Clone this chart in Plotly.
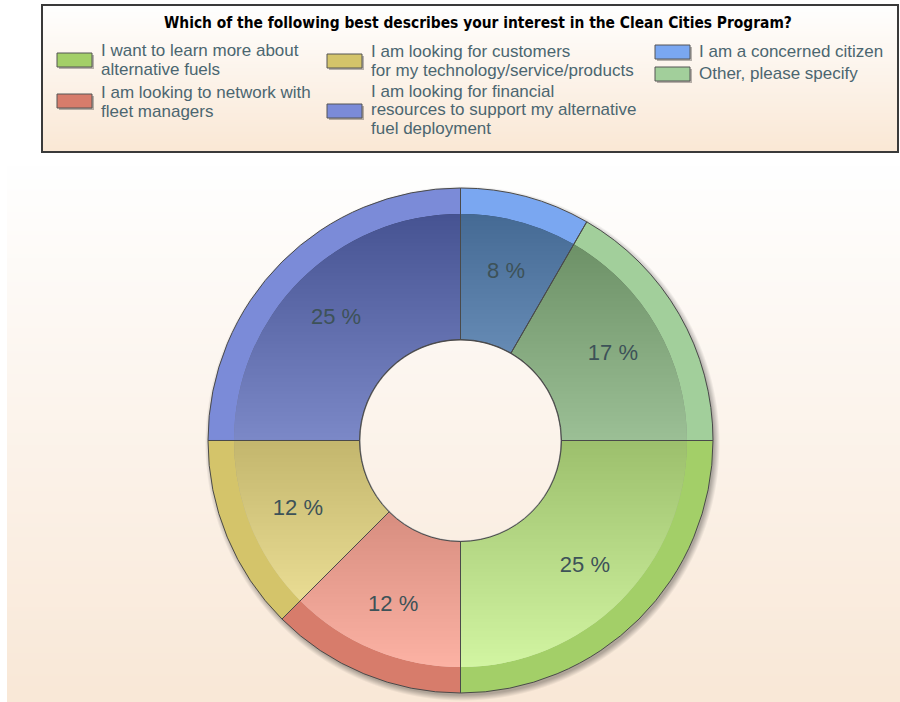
import base64
import struct
import zlib

import numpy as np
import plotly.graph_objects as go

# ---------------- data ----------------
title_text = "Which of the following best describes your interest in the Clean Cities Program?"
categories = [
    "I want to learn more about alternative fuels",
    "I am looking to network with fleet managers",
    "I am looking for customers for my technology/service/products",
    "I am looking for financial resources to support my alternative fuel deployment",
    "I am a concerned citizen",
    "Other, please specify",
]
legend_lines = [
    ["I want to learn more about", "alternative fuels"],
    ["I am looking to network with", "fleet managers"],
    ["I am looking for customers", "for my technology/service/products"],
    ["I am looking for financial", "resources to support my alternative", "fuel deployment"],
    ["I am a concerned citizen"],
    ["Other, please specify"],
]
values = [6, 3, 3, 6, 2, 4]
colors = ["#a3cf68", "#d77c6b", "#d4c46a", "#7b8bd8", "#7aa7f1", "#a2cf9b"]

total = sum(values)
pct_text = [f"{round(100 * v / total)} %" for v in values]

# ---------------- geometry / style ----------------
W, H = 900, 702
CX, CY = 460.5, 440.5
R_OUT, R_IN, R_HOLE, R_TXT = 252.5, 226.5, 101.0, 220.0
ALPHA = 0.58
BOOST = 0.4
FONT = "Liberation Sans, Arial, sans-serif"
TXT_COLOR = "#4b6670"


def px(x):
    return x / W


def py(y):
    return 1 - y / H


def png_uri(arr):
    arr = np.ascontiguousarray(arr.astype(np.uint8))
    h, w = arr.shape[:2]
    raw = b"".join(b"\x00" + arr[i].tobytes() for i in range(h))

    def chunk(t, d):
        return struct.pack(">I", len(d)) + t + d + struct.pack(">I", zlib.crc32(t + d) & 0xFFFFFFFF)

    png = (b"\x89PNG\r\n\x1a\n"
           + chunk(b"IHDR", struct.pack(">IIBBBBB", w, h, 8, 6, 0, 0, 0))
           + chunk(b"IDAT", zlib.compress(raw, 9))
           + chunk(b"IEND", b""))
    return "data:image/png;base64," + base64.b64encode(png).decode()


def vgrad(top, bottom, n=256):
    t = np.linspace(0, 1, n)[:, None]
    top = np.array(top, float)
    bottom = np.array(bottom, float)
    rgb = top + (bottom - top) * t
    arr = np.zeros((n, 2, 4))
    arr[:, :, :3] = rgb[:, None, :]
    arr[:, :, 3] = 255
    return png_uri(arr)


def hex_rgb(h):
    h = h.lstrip("#")
    return np.array([int(h[i:i + 2], 16) for i in (0, 2, 4)], float)


# underlay: vertical dark-to-light gradient in the inner ring + soft shadow
PAD = 10
S = int(2 * (R_OUT + PAD))
ox, oy = CX - R_OUT - PAD, CY - R_OUT - PAD
yy, xx = np.mgrid[0:S, 0:S] + 0.5
dx = xx + ox - CX
dy = yy + oy - CY
rr = np.hypot(dx, dy)
t = np.clip(dy / R_IN, -1, 1)
U = np.clip(128 + 127 * t, 0, 255)
m_in = np.clip(rr - (R_HOLE - 1.5), 0, 1) * np.clip(R_IN + 4 - rr, 0, 1)
rs = np.hypot(dx - 2, dy - 3)
sh = 0.30 * np.clip((R_OUT + 5 - rs) / 6, 0, 1) * (rr > R_IN + 4)
under = np.zeros((S, S, 4))
for k in range(3):
    under[..., k] = U * (m_in > 0)
under[..., 3] = 255 * np.maximum(m_in, sh)

inner_colors = []
for c in colors:
    rgb = hex_rgb(c)
    rgb = np.clip(rgb + BOOST * (rgb - 128), 0, 255)
    inner_colors.append(f"rgba({int(rgb[0])},{int(rgb[1])},{int(rgb[2])},{ALPHA})")


def dom(r):
    return dict(x=[px(CX - r), px(CX + r)], y=[py(CY + r), py(CY - r)])


common = dict(labels=categories, values=values, sort=False, direction="clockwise",
              rotation=90, showlegend=False, hoverinfo="skip")

fig = go.Figure()
fig.add_trace(go.Pie(**common, textinfo="none", domain=dom(R_OUT), hole=R_IN / R_OUT,
                     marker=dict(colors=colors, line=dict(width=0))))
fig.add_trace(go.Pie(**common, textinfo="none", domain=dom(R_IN), hole=R_HOLE / R_IN,
                     marker=dict(colors=inner_colors, line=dict(width=0))))
fig.add_trace(go.Pie(**common, textinfo="none", domain=dom(R_OUT), hole=R_HOLE / R_OUT,
                     marker=dict(colors=["rgba(0,0,0,0)"] * len(values),
                                 line=dict(color="#4a4a4a", width=1))))
fig.add_trace(go.Pie(**common, domain=dom(R_TXT), hole=0.6, text=pct_text,
                     texttemplate="%{text}", textposition="inside",
                     insidetextorientation="horizontal",
                     textfont=dict(family=FONT, size=22, color="#3d5258"),
                     marker=dict(colors=["rgba(0,0,0,0)"] * len(values), line=dict(width=0))))

images = [
    dict(source=vgrad((255, 255, 255), (249, 232, 215)), xref="paper", yref="paper",
         x=px(7), y=py(165), sizex=(W - 7) / W, sizey=(H - 165) / H,
         xanchor="left", yanchor="top", sizing="stretch", layer="below"),
    dict(source=vgrad((255, 255, 255), (250, 232, 213)), xref="paper", yref="paper",
         x=px(42), y=py(5), sizex=(898 - 42) / W, sizey=(152 - 5) / H,
         xanchor="left", yanchor="top", sizing="stretch", layer="below"),
    dict(source=png_uri(under), xref="paper", yref="paper",
         x=px(ox), y=py(oy), sizex=S / W, sizey=S / H,
         xanchor="left", yanchor="top", sizing="stretch", layer="below"),
]

shapes = [dict(type="rect", xref="paper", yref="paper", x0=px(42), x1=px(898),
               y0=py(152), y1=py(5), line=dict(color="#3a3a3a", width=2))]
annotations = [dict(text=f"<b>{title_text}</b>", xref="paper", yref="paper",
                    x=px(478), y=py(23), xanchor="center", yanchor="middle",
                    showarrow=False,
                    font=dict(family="DejaVu Sans Condensed, Liberation Sans",
                              size=15.4, color="#000000"))]

# legend layout: (swatch x, swatch top y, text x, first line centre y)
LEG_POS = [(57, 53, 99, 51), (57, 94, 99, 93), (327, 54, 369, 51.7),
           (327, 104, 369, 91), (655, 45, 697, 51.7), (655, 67, 697, 73)]
SW, SH, LINE = 35, 14, 18.7
for i, (sx, sy, tx, ty) in enumerate(LEG_POS):
    shapes.append(dict(type="rect", xref="paper", yref="paper",
                       x0=px(sx + 2), x1=px(sx + SW + 2), y0=py(sy + SH + 2), y1=py(sy + 2),
                       fillcolor="rgba(0,0,0,0.28)", line=dict(width=0)))
    shapes.append(dict(type="rect", xref="paper", yref="paper",
                       x0=px(sx), x1=px(sx + SW), y0=py(sy + SH), y1=py(sy),
                       fillcolor=colors[i], line=dict(color="#555555", width=1)))
    for j, line in enumerate(legend_lines[i]):
        annotations.append(dict(text=line, xref="paper", yref="paper",
                                x=px(tx), y=py(ty + j * LINE), xanchor="left",
                                yanchor="middle", showarrow=False,
                                font=dict(family=FONT, size=17, color=TXT_COLOR)))

fig.update_layout(width=W, height=H, margin=dict(l=0, r=0, t=0, b=0),
                  paper_bgcolor="#ffffff", images=images, shapes=shapes,
                  annotations=annotations)
fig.write_html("out.html")
